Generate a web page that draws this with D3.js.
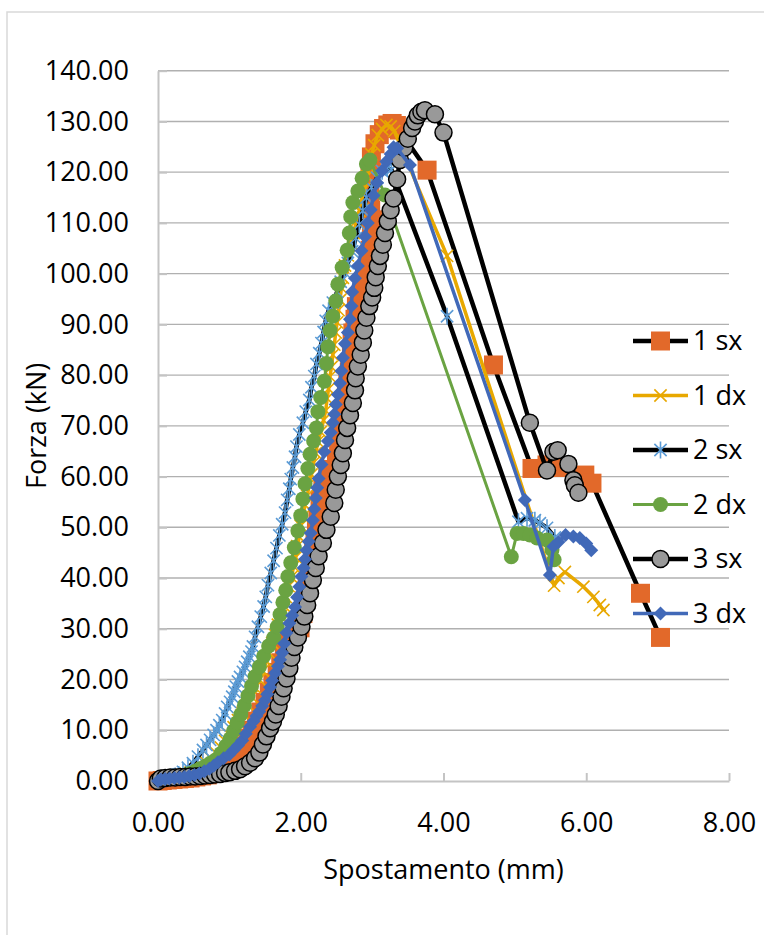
<!DOCTYPE html>
<html>
<head>
<meta charset="utf-8">
<script src="https://cdn.jsdelivr.net/npm/d3@7"></script>
<style>
  body { margin: 0; background: #fff; }
  svg { display: block; font-family: 'Open Sans', sans-serif; }
</style>
</head>
<body>
<div id="chart"></div>
<script>
// [spostamento mm, forza kN]
const s1sx = [[0,0],[0.06,0.1],[0.13,0.2],[0.21,0.3],[0.29,0.4],[0.37,0.5],[0.45,0.6],[0.53,0.8],[0.61,1.0],[0.69,1.2],[0.77,1.5],[0.85,1.9],[0.93,2.5],[1.0,3.3],[1.07,4.3],[1.14,5.5],[1.2,6.9],[1.26,8.4],[1.32,10.0],[1.38,11.8],[1.44,13.6],[1.5,15.5],[1.56,17.5],[1.61,19.4],[1.67,21.4],[1.72,23.3],[1.77,25.3],[1.84,27.4],[1.92,29.1],[1.99,30.2],[2.03,33.0],[2.06,35.6],[2.09,37.9],[2.13,40.3],[2.16,42.8],[2.18,45.0],[2.2,47.3],[2.22,49.5],[2.24,52.1],[2.27,55.4],[2.31,58.0],[2.38,59.6],[2.44,61.4],[2.5,63.3],[2.53,65.4],[2.55,67.6],[2.57,70.0],[2.59,72.5],[2.62,74.2],[2.64,75.9],[2.66,78.7],[2.68,80.6],[2.69,82.4],[2.71,84.8],[2.72,86.7],[2.73,88.3],[2.76,91.0],[2.78,93.5],[2.84,95.4],[2.87,96.8],[2.92,100.0],[2.95,102.4],[2.97,104.6],[2.99,108.0],[3.01,110.6],[2.98,112.5],[2.97,115.2],[2.96,117.9],[2.97,120.4],[2.99,123.0],[3.04,125.6],[3.1,127.4],[3.16,128.6],[3.22,129.3],[3.28,129.6],[3.34,129.2],[3.38,128.3],[3.77,120.4],[4.7,82.0],[5.24,61.6],[5.45,62.3],[5.65,61.8],[5.98,60.3],[6.08,58.7],[6.76,37.0],[7.04,28.3]];

const s1dx = [[0,0],[0.05,0.2],[0.11,0.3],[0.18,0.5],[0.25,0.7],[0.32,1.0],[0.39,1.4],[0.46,1.7],[0.53,2.3],[0.6,2.8],[0.67,3.7],[0.74,4.5],[0.81,5.6],[0.88,6.6],[0.94,7.9],[1.0,9.1],[1.06,10.6],[1.12,12.0],[1.18,13.4],[1.25,15.1],[1.31,16.6],[1.36,18.4],[1.42,20.0],[1.47,21.7],[1.52,23.6],[1.56,25.2],[1.6,27.2],[1.64,28.8],[1.68,30.8],[1.72,32.5],[1.76,34.6],[1.79,36.3],[1.83,38.4],[1.87,40.2],[1.9,42.3],[1.93,44.1],[1.95,46.3],[1.98,48.1],[2.0,50.3],[2.03,52.1],[2.06,54.4],[2.09,56.2],[2.12,58.5],[2.15,60.4],[2.18,62.7],[2.21,64.6],[2.24,66.9],[2.28,68.8],[2.32,71.1],[2.35,73.0],[2.37,75.4],[2.39,77.3],[2.41,79.7],[2.43,81.6],[2.45,84.0],[2.47,86.0],[2.49,88.4],[2.51,90.4],[2.53,92.8],[2.55,94.8],[2.57,97.2],[2.59,99.2],[2.62,101.6],[2.66,103.6],[2.7,106.0],[2.74,108.0],[2.78,110.4],[2.82,112.4],[2.86,114.8],[2.9,116.8],[2.93,119.2],[2.96,121.2],[2.99,123.5],[3.03,125.3],[3.08,127.3],[3.14,128.5],[3.2,129.3],[3.26,129.0],[3.31,128.1],[4.05,103.5],[5.55,38.5],[5.61,40.0],[5.7,41.2],[5.96,38.3],[6.1,36.3],[6.19,34.7],[6.24,33.7]];

const s2sx = [[0,0],[0.04,0.2],[0.09,0.4],[0.14,0.6],[0.19,0.8],[0.24,1.0],[0.29,1.3],[0.35,1.8],[0.42,2.6],[0.49,3.5],[0.56,4.8],[0.63,6.1],[0.68,7.1],[0.73,8.1],[0.78,9.1],[0.82,10.0],[0.86,11.0],[0.9,12.0],[0.94,13.3],[0.97,14.6],[1.01,15.6],[1.04,16.6],[1.07,17.6],[1.09,18.6],[1.12,19.6],[1.15,20.5],[1.19,21.5],[1.22,22.5],[1.25,23.5],[1.28,24.5],[1.31,25.5],[1.33,26.5],[1.36,28.4],[1.4,30.4],[1.44,32.4],[1.48,34.4],[1.51,36.3],[1.54,38.6],[1.58,41.0],[1.62,43.4],[1.66,45.9],[1.7,48.4],[1.74,50.6],[1.78,52.9],[1.81,55.4],[1.84,57.6],[1.86,59.5],[1.89,61.8],[1.92,63.9],[1.94,65.9],[1.98,68.3],[2.03,70.6],[2.07,72.8],[2.12,75.1],[2.15,77.6],[2.19,79.8],[2.22,82.2],[2.26,84.3],[2.29,86.3],[2.32,88.5],[2.35,90.7],[2.39,92.7],[2.45,94.3],[2.51,96.4],[2.56,98.4],[2.61,100.3],[2.66,102.1],[2.72,104.4],[2.77,107.0],[2.82,109.7],[2.87,112.4],[2.92,115.0],[2.99,117.0],[3.07,118.9],[3.14,120.2],[3.21,120.8],[3.27,120.5],[4.05,91.6],[5.05,51.1],[5.17,51.8],[5.28,51.4],[5.35,50.8],[5.45,49.9],[5.56,48.0]];

const s2dx = [[0,0],[0.05,0.2],[0.11,0.3],[0.17,0.5],[0.24,0.7],[0.31,0.9],[0.38,1.2],[0.45,1.5],[0.52,1.9],[0.59,2.4],[0.66,2.9],[0.73,3.5],[0.8,4.1],[0.88,5.4],[0.95,6.9],[1.01,8.3],[1.06,9.9],[1.11,11.5],[1.16,13.1],[1.21,14.9],[1.26,16.8],[1.31,18.7],[1.36,20.6],[1.42,22.5],[1.48,24.6],[1.55,26.6],[1.62,28.2],[1.67,30.4],[1.71,32.8],[1.75,35.2],[1.79,37.6],[1.82,40.3],[1.86,43.0],[1.91,46.0],[1.96,49.3],[2.0,52.3],[2.03,55.6],[2.06,58.6],[2.1,61.6],[2.13,64.4],[2.18,67.0],[2.22,69.6],[2.24,72.8],[2.28,75.6],[2.33,78.8],[2.36,82.3],[2.38,85.6],[2.41,88.8],[2.45,91.6],[2.49,94.6],[2.52,97.9],[2.58,101.2],[2.65,104.6],[2.68,108.0],[2.7,111.2],[2.73,114.0],[2.8,116.3],[2.86,118.8],[2.92,121.6],[2.97,122.4],[3.18,115.5],[4.95,44.2],[5.03,48.8],[5.12,48.8],[5.21,48.5],[5.31,47.9],[5.45,47.5],[5.52,45.6],[5.55,43.6]];

const s3sx = [[0,0],[0.04,0.5],[0.1,0.6],[0.17,0.7],[0.24,0.7],[0.31,0.8],[0.38,0.8],[0.45,0.9],[0.52,0.9],[0.59,1.0],[0.66,1.1],[0.73,1.2],[0.8,1.3],[0.87,1.4],[0.94,1.6],[1.0,1.7],[1.08,2.0],[1.15,2.3],[1.22,2.9],[1.29,3.6],[1.36,4.5],[1.42,5.6],[1.47,7.2],[1.52,8.8],[1.57,10.4],[1.61,11.7],[1.65,13.1],[1.69,14.8],[1.73,16.6],[1.76,18.3],[1.8,20.2],[1.84,22.2],[1.87,24.3],[1.91,26.4],[1.96,28.3],[2.01,30.4],[2.05,32.4],[2.09,34.7],[2.13,37.0],[2.17,39.6],[2.21,42.0],[2.25,44.3],[2.31,46.9],[2.36,49.5],[2.42,52.1],[2.47,54.8],[2.49,57.4],[2.52,60.0],[2.56,62.3],[2.59,64.6],[2.62,67.2],[2.65,69.6],[2.69,72.1],[2.73,74.5],[2.76,77.0],[2.77,79.4],[2.8,81.7],[2.84,84.0],[2.87,86.4],[2.89,88.8],[2.92,91.3],[2.96,93.6],[3.0,95.3],[3.03,97.2],[3.05,99.3],[3.08,101.5],[3.11,103.5],[3.15,105.7],[3.18,108.0],[3.22,110.3],[3.26,112.5],[3.3,114.8],[3.35,118.6],[3.39,122.4],[3.45,124.8],[3.5,126.6],[3.56,128.7],[3.6,130.0],[3.64,131.2],[3.69,131.9],[3.74,132.2],[3.88,131.4],[4.0,127.8],[5.21,70.6],[5.45,61.2],[5.54,64.9],[5.6,65.2],[5.75,62.5],[5.82,59.3],[5.84,58.3],[5.89,56.8]];

const s3dx = [[0,0],[0.04,0.3],[0.1,0.4],[0.16,0.5],[0.23,0.6],[0.3,0.7],[0.37,0.8],[0.44,1.0],[0.51,1.2],[0.58,1.5],[0.65,1.9],[0.72,2.4],[0.78,3.0],[0.84,3.7],[0.92,4.5],[1.0,5.2],[1.06,6.1],[1.12,7.0],[1.18,8.0],[1.23,9.3],[1.29,10.7],[1.34,11.8],[1.38,12.8],[1.42,13.7],[1.46,14.8],[1.5,15.9],[1.53,17.1],[1.57,18.5],[1.6,19.8],[1.64,21.3],[1.68,22.6],[1.71,23.9],[1.74,25.3],[1.77,27.1],[1.8,29.2],[1.84,31.1],[1.88,32.6],[1.92,34.3],[1.95,36.2],[1.98,38.3],[2.01,40.3],[2.04,42.0],[2.06,43.7],[2.08,45.5],[2.11,47.2],[2.14,48.9],[2.17,51.4],[2.19,53.6],[2.21,55.8],[2.23,57.8],[2.25,59.6],[2.29,62.4],[2.33,64.9],[2.38,67.0],[2.42,68.7],[2.45,70.6],[2.47,72.3],[2.49,74.2],[2.52,76.2],[2.55,78.4],[2.57,80.8],[2.59,83.4],[2.62,86.2],[2.66,88.4],[2.69,91.0],[2.71,93.6],[2.72,96.4],[2.76,99.1],[2.8,101.5],[2.85,104.5],[2.9,107.3],[2.94,110.0],[2.98,112.6],[3.02,115.4],[3.07,117.9],[3.14,120.3],[3.2,122.1],[3.26,123.6],[3.3,124.9],[3.35,124.7],[3.53,121.4],[5.14,55.4],[5.49,40.6],[5.54,46.2],[5.61,47.1],[5.71,48.5],[5.82,48.2],[5.91,47.9],[6.0,46.8],[6.07,45.5]];

const seriesNames = ['1 sx', '1 dx', '2 sx', '2 dx', '3 sx', '3 dx'];
const xTicks = [0, 2, 4, 6, 8];
const yTicks = [0, 10, 20, 30, 40, 50, 60, 70, 80, 90, 100, 110, 120, 130, 140];

// looks of each series (line colour, marker type, marker colours)
const styles = [
  { data: s1sx, line: '#000', lw: 4.5, shape: 'square', r: 9.5, fill: '#E2692A', stroke: 'none' },
  { data: s1dx, line: '#E8A800', lw: 3.5, shape: 'x', r: 8.5, fill: 'none', stroke: '#E8A800' },
  { data: s2sx, line: '#000', lw: 4.5, shape: 'star', r: 8.5, fill: 'none', stroke: '#5B9BD5' },
  { data: s2dx, line: '#6AA342', lw: 3, shape: 'circle', r: 7.5, fill: '#6AA342', stroke: 'none' },
  { data: s3sx, line: '#000', lw: 4.5, shape: 'circle', r: 8.5, fill: '#999999', stroke: '#000' },
  { data: s3dx, line: '#4169B8', lw: 3.5, shape: 'diamond', r: 7, fill: '#4169B8', stroke: 'none' },
];

const width = 764, height = 935;
const svg = d3.select('#chart').append('svg')
  .attr('width', width)
  .attr('height', height);

// chart frame (cut off on the right and bottom in the picture)
svg.append('rect')
  .attr('x', 7).attr('y', 12)
  .attr('width', 800).attr('height', 1000)
  .attr('fill', 'none')
  .attr('stroke', '#d9d9d9')
  .attr('stroke-width', 1.5);

const x = d3.scaleLinear().domain([0, 8]).range([158, 729]);
const y = d3.scaleLinear().domain([0, 140]).range([781, 70.7]);

// gridlines
svg.append('g')
  .selectAll('line')
  .data(yTicks.slice(1))
  .join('line')
  .attr('x1', x(0)).attr('x2', x(8))
  .attr('y1', d => y(d)).attr('y2', d => y(d))
  .attr('stroke', '#b0b0b0')
  .attr('stroke-width', 1.4);

const xAxis = svg.append('g')
  .attr('transform', `translate(0,${y(0)})`)
  .call(d3.axisBottom(x).tickValues(xTicks).tickFormat(d3.format('.2f')).tickSize(-8).tickSizeOuter(0).tickPadding(32));

const yAxis = svg.append('g')
  .attr('transform', `translate(${x(0)},0)`)
  .call(d3.axisLeft(y).tickValues(yTicks).tickFormat(d3.format('.2f')).tickSize(-9).tickSizeOuter(0).tickPadding(29));

[xAxis, yAxis].forEach(g => {
  g.select('.domain').attr('stroke', '#c4c4c4').attr('stroke-width', 2);
  g.selectAll('.tick line').attr('stroke', '#c4c4c4').attr('stroke-width', 2);
  g.selectAll('.tick text')
    .attr('fill', '#000')
    .style('font-family', '"Open Sans", sans-serif')
    .style('font-size', '27px');
});

// axis titles
svg.append('text')
  .attr('x', (x(0) + x(8)) / 2)
  .attr('y', 879)
  .attr('text-anchor', 'middle')
  .style('font-size', '27px')
  .text('Spostamento (mm)');

svg.append('text')
  .attr('transform', `translate(46,${(y(0) + y(140)) / 2}) rotate(-90)`)
  .attr('text-anchor', 'middle')
  .style('font-size', '27px')
  .text('Forza (kN)');

// marker path for one style, centred on 0,0
function markerPath(s) {
  const p = d3.path();
  const r = s.r;
  if (s.shape === 'square') {
    p.rect(-r, -r, 2 * r, 2 * r);
  } else if (s.shape === 'circle') {
    p.arc(0, 0, r, 0, 2 * Math.PI);
  } else if (s.shape === 'diamond') {
    p.moveTo(0, -r); p.lineTo(r, 0); p.lineTo(0, r); p.lineTo(-r, 0); p.closePath();
  } else {
    const a = r * 0.72;
    p.moveTo(-a, -a); p.lineTo(a, a);
    p.moveTo(-a, a); p.lineTo(a, -a);
    if (s.shape === 'star') { p.moveTo(0, -r); p.lineTo(0, r); }
  }
  return p.toString();
}

const line = d3.line().x(d => x(d[0])).y(d => y(d[1]));

const plot = svg.append('g');
styles.forEach(s => {
  const g = plot.append('g');
  g.append('path')
    .datum(s.data)
    .attr('d', line)
    .attr('fill', 'none')
    .attr('stroke', s.line)
    .attr('stroke-width', s.lw)
    .attr('stroke-linejoin', 'round');
  g.selectAll('path.m')
    .data(s.data)
    .join('path')
    .attr('class', 'm')
    .attr('transform', d => `translate(${x(d[0])},${y(d[1])})`)
    .attr('d', markerPath(s))
    .attr('fill', s.fill)
    .attr('stroke', s.stroke)
    .attr('stroke-width', s.shape === 'circle' ? 1.5 : 1.6);
});

// legend
const legend = svg.append('g')
  .selectAll('g')
  .data(styles)
  .join('g')
  .attr('transform', (d, i) => `translate(633,${341 + i * 54.5})`);

legend.append('line')
  .attr('x1', 0).attr('x2', 55)
  .attr('stroke', d => d.line)
  .attr('stroke-width', d => d.lw);

legend.append('path')
  .attr('transform', 'translate(27.5,0)')
  .attr('d', d => markerPath(d))
  .attr('fill', d => d.fill)
  .attr('stroke', d => d.stroke)
  .attr('stroke-width', d => d.shape === 'circle' ? 1.5 : 1.6);

legend.append('text')
  .attr('x', 60)
  .attr('dy', '0.35em')
  .style('font-size', '27px')
  .text((d, i) => seriesNames[i]);
</script>
</body>
</html>
